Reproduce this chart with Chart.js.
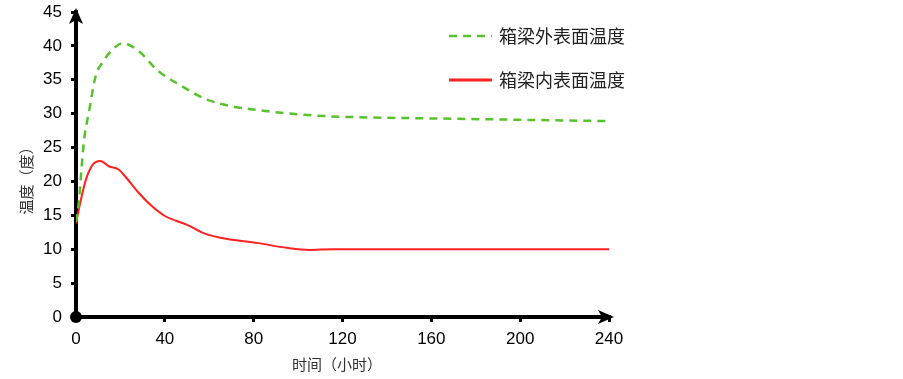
<!DOCTYPE html>
<html>
<head>
<meta charset="utf-8">
<script src="https://cdn.jsdelivr.net/npm/chart.js@4/dist/chart.umd.min.js"></script>
<style>
  html, body { margin: 0; padding: 0; background: #fff; }
  #wrap { width: 903px; height: 379px; position: relative; }
</style>
</head>
<body>
<div id="wrap"><canvas id="tempChart"></canvas></div>
<script>
// Time (hours) and temperatures
const outerHours = [0, 1.3, 2.5, 3.6, 5.9, 8.9, 12, 16, 21, 28, 37, 48, 58, 70, 80, 100, 115, 160, 200, 240];
const outerTemps = [14, 17, 22, 26, 30.4, 35.6, 37.6, 39.3, 40.4, 39.3, 36.3, 34.0, 32.2, 31.1, 30.6, 29.9, 29.6, 29.3, 29.1, 28.9];

const innerHours = [0, 2, 4.4, 7.4, 11, 15, 19, 22, 28, 34, 40, 45, 50, 58, 65, 82, 95, 105, 115, 240];
const innerTemps = [13.8, 17, 20.2, 22.4, 23.0, 22.2, 21.8, 20.8, 18.4, 16.4, 14.9, 14.2, 13.6, 12.3, 11.7, 10.9, 10.2, 9.9, 10.0, 10.0];

const seriesLabels = ["箱梁外表面温度", "箱梁内表面温度"];
const xTicks = [0, 40, 80, 120, 160, 200, 240];
const yTicks = [0, 5, 10, 15, 20, 25, 30, 35, 40, 45];
const xTitle = "时间（小时）";
const yTitle = "温度（度）";

const green = "#58c22c";
const red = "#ff2121";
const cjkFont = '"Noto Sans CJK SC", sans-serif';
const numFont = '"Liberation Sans", Arial, sans-serif';

const toPoints = (xs, ys) => xs.map((x, i) => ({ x, y: ys[i] }));

// Arrows, origin dot, axis titles and the legend
const decorations = {
  id: "decorations",
  afterDraw(chart) {
    const { ctx, chartArea } = chart;
    const x0 = chartArea.left, y0 = chartArea.bottom;
    const xEnd = chartArea.right, yTop = chartArea.top;
    ctx.save();
    ctx.fillStyle = "#000";
    ctx.strokeStyle = "#000";
    ctx.lineWidth = 4;

    // y arrow
    ctx.beginPath();
    ctx.moveTo(x0, yTop + 6);
    ctx.lineTo(x0, yTop);
    ctx.stroke();
    ctx.beginPath();
    ctx.moveTo(x0, yTop - 4);
    ctx.lineTo(x0 - 7, yTop + 12);
    ctx.lineTo(x0, yTop + 8);
    ctx.lineTo(x0 + 7, yTop + 12);
    ctx.closePath();
    ctx.fill();

    // x arrow
    ctx.beginPath();
    ctx.moveTo(xEnd - 6, y0);
    ctx.lineTo(xEnd + 2, y0);
    ctx.stroke();
    ctx.beginPath();
    ctx.moveTo(xEnd + 5, y0);
    ctx.lineTo(xEnd - 11, y0 - 7);
    ctx.lineTo(xEnd - 7, y0);
    ctx.lineTo(xEnd - 11, y0 + 7);
    ctx.closePath();
    ctx.fill();

    // origin dot
    ctx.beginPath();
    ctx.arc(x0, y0, 6, 0, Math.PI * 2);
    ctx.fill();

    // axis titles
    ctx.fillStyle = "#333";
    ctx.font = "15px " + cjkFont;
    ctx.textAlign = "center";
    ctx.textBaseline = "middle";
    ctx.fillText(xTitle, 337, 364);
    ctx.save();
    ctx.translate(26, 177);
    ctx.rotate(-Math.PI / 2);
    ctx.fillText(yTitle, 0, 0);
    ctx.restore();

    // legend
    const rows = [
      { y: 36, color: green, dash: [8, 6], width: 2.5 },
      { y: 80, color: red, dash: [], width: 3 }
    ];
    rows.forEach((r, i) => {
      ctx.beginPath();
      ctx.setLineDash(r.dash);
      ctx.strokeStyle = r.color;
      ctx.lineWidth = r.width;
      ctx.moveTo(449, r.y);
      ctx.lineTo(492, r.y);
      ctx.stroke();
      ctx.setLineDash([]);
      ctx.fillStyle = "#222";
      ctx.font = "18px " + cjkFont;
      ctx.textAlign = "left";
      ctx.fillText(chart.data.datasets[i].label, 499, r.y);
    });
    ctx.restore();
  }
};

new Chart(document.getElementById("tempChart"), {
  type: "line",
  data: {
    datasets: [
      {
        label: seriesLabels[0],
        data: toPoints(outerHours, outerTemps),
        borderColor: green,
        borderWidth: 2.5,
        borderDash: [8, 6],
        pointRadius: 0,
        cubicInterpolationMode: "monotone",
        fill: false
      },
      {
        label: seriesLabels[1],
        data: toPoints(innerHours, innerTemps),
        borderColor: red,
        borderWidth: 2,
        pointRadius: 0,
        cubicInterpolationMode: "monotone",
        fill: false
      }
    ]
  },
  options: {
    responsive: true,
    maintainAspectRatio: false,
    animation: false,
    layout: { padding: { left: 0, top: 12, right: 294, bottom: 0 } },
    plugins: {
      legend: { display: false },
      tooltip: { enabled: false }
    },
    scales: {
      x: {
        type: "linear",
        min: 0,
        max: 240,
        afterBuildTicks: s => { s.ticks = xTicks.map(v => ({ value: v })); },
        ticks: { color: "#000", font: { family: numFont, size: 17 }, padding: 7, maxRotation: 0 },
        grid: { drawOnChartArea: false, drawTicks: true, tickLength: 5, color: "#000", lineWidth: 3 },
        border: { color: "#000", width: 4 },
        afterFit: s => { s.height = 62; }
      },
      y: {
        min: 0,
        max: 45,
        afterBuildTicks: s => { s.ticks = yTicks.map(v => ({ value: v })); },
        ticks: { color: "#000", font: { family: numFont, size: 17 }, padding: 9 },
        grid: { drawOnChartArea: false, drawTicks: true, tickLength: 5, color: "#000", lineWidth: 3 },
        border: { color: "#000", width: 4 },
        afterFit: s => { s.width = 76; s.paddingTop = 0; s.paddingBottom = 0; }
      }
    }
  },
  plugins: [decorations]
});
</script>
</body>
</html>
